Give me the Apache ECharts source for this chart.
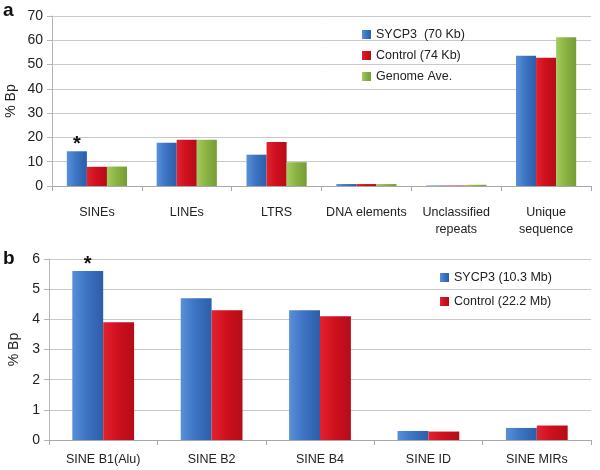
<!DOCTYPE html>
<html>
<head>
<meta charset="utf-8">
<script src="https://cdn.jsdelivr.net/npm/echarts@6/dist/echarts.min.js"></script>
<style>html,body{margin:0;padding:0;background:#fff}#c{width:600px;height:470px}</style>
</head>
<body>
<div id="c"></div>
<script>
// Panel a
var catsA = ['SINEs', 'LINEs', 'LTRS', 'DNA elements', 'Unclassified\nrepeats', 'Unique\nsequence'];
var sycp3A = [14.3, 17.8, 12.9, 0.8, 0.2, 53.6];
var controlA = [7.9, 19.0, 18.1, 0.8, 0.2, 52.8];
var genomeA = [8.0, 19.0, 9.8, 0.8, 0.5, 61.2];
var starsA = ['*', '', '', '', '', ''];
var namesA = ['SYCP3  (70 Kb)', 'Control (74 Kb)', 'Genome Ave.'];
var ticksA = [0, 10, 20, 30, 40, 50, 60, 70];
// Panel b
var catsB = ['SINE B1(Alu)', 'SINE B2', 'SINE B4', 'SINE ID', 'SINE MIRs'];
var sycp3B = [5.6, 4.7, 4.3, 0.3, 0.4];
var controlB = [3.9, 4.3, 4.1, 0.28, 0.48];
var starsB = ['*', '', '', '', ''];
var namesB = ['SYCP3 (10.3 Mb)', 'Control (22.2 Mb)'];
var ticksB = [0, 1, 2, 3, 4, 5, 6];

function grad(c1, c2, c3) {
  return new echarts.graphic.LinearGradient(0, 0, 1, 0, [
    {offset: 0, color: c1}, {offset: 0.45, color: c2}, {offset: 1, color: c3}]);
}
var blue = grad('#5a90d8', '#3d74c4', '#2c5ea8');
var red = grad('#e2232f', '#d0101e', '#b50c18');
var green = grad('#a5cb5e', '#8bb443', '#769c35');

function withStars(vals, stars) {
  return vals.map(function (v, i) {
    if (stars[i]) {
      return {value: v, label: {show: true, formatter: stars[i], position: 'top', distance: -3,
        fontSize: 20, fontWeight: 'bold', color: '#111', fontFamily: 'Liberation Sans'}};
    }
    return v;
  });
}

var font = 'Liberation Sans';
function yAxis(idx, ticks, gap) {
  return {
    type: 'value', gridIndex: idx, min: ticks[0], max: ticks[ticks.length - 1],
    interval: ticks[1] - ticks[0],
    name: '% Bp', nameLocation: 'middle', nameGap: gap, nameRotate: 90, nameMoveOverlap: false,
    nameTextStyle: {fontSize: 14, color: '#222', fontFamily: font},
    axisLine: {show: true, lineStyle: {color: '#b5b5b5'}},
    axisTick: {show: true, length: 5, lineStyle: {color: '#b5b5b5'}},
    axisLabel: {fontSize: 14, color: '#222', margin: 9, fontFamily: font},
    splitLine: {lineStyle: {color: '#c9c9c9'}}
  };
}
function xAxis(idx, cats, margin) {
  return {
    type: 'category', gridIndex: idx, data: cats,
    axisLine: {lineStyle: {color: '#a8a8a8'}},
    axisTick: {show: true, length: 5, alignWithLabel: false, lineStyle: {color: '#a8a8a8'}},
    axisLabel: {fontSize: 12.5, color: '#222', margin: margin, lineHeight: 17, fontFamily: font, interval: 0}
  };
}

var chart = echarts.init(document.getElementById('c'), null, {renderer: 'canvas'});
chart.setOption({
  animation: false,
  backgroundColor: '#fff',
  title: [
    {text: 'a', left: -2, top: -4, textStyle: {fontSize: 19, fontWeight: 'bold', color: '#111', fontFamily: font}},
    {text: 'b', left: -2, top: 244, textStyle: {fontSize: 19, fontWeight: 'bold', color: '#111', fontFamily: font}}
  ],
  grid: [
    {left: 52, right: 9, top: 16, bottom: 284, outerBoundsMode: 'none', containLabel: false},
    {left: 49, right: 9, top: 259, bottom: 30, outerBoundsMode: 'none', containLabel: false}
  ],
  legend: [
    {data: namesA, orient: 'vertical', left: 357, top: 23, itemWidth: 9, itemHeight: 9, itemGap: 8,
      icon: 'rect', textStyle: {fontSize: 12.5, color: '#222', fontFamily: font}},
    {data: namesB, orient: 'vertical', left: 435, top: 266, itemWidth: 9, itemHeight: 9, itemGap: 11,
      icon: 'rect', textStyle: {fontSize: 12.5, color: '#222', fontFamily: font}}
  ],
  xAxis: [xAxis(0, catsA, 18), xAxis(1, catsB, 11)],
  yAxis: [yAxis(0, ticksA, 34), yAxis(1, ticksB, 28)],
  series: [
    {name: namesA[0], type: 'bar', xAxisIndex: 0, yAxisIndex: 0, data: withStars(sycp3A, starsA),
      barGap: '0%', barCategoryGap: '33%', itemStyle: {color: blue}},
    {name: namesA[1], type: 'bar', xAxisIndex: 0, yAxisIndex: 0, data: controlA,
      barGap: '0%', barCategoryGap: '33%', itemStyle: {color: red}},
    {name: namesA[2], type: 'bar', xAxisIndex: 0, yAxisIndex: 0, data: genomeA,
      barGap: '0%', barCategoryGap: '33%', itemStyle: {color: green}},
    {name: namesB[0], type: 'bar', xAxisIndex: 1, yAxisIndex: 1, data: withStars(sycp3B, starsB),
      barGap: '0%', barCategoryGap: '43%', itemStyle: {color: blue}},
    {name: namesB[1], type: 'bar', xAxisIndex: 1, yAxisIndex: 1, data: controlB,
      barGap: '0%', barCategoryGap: '43%', itemStyle: {color: red}}
  ]
});
</script>
</body>
</html>
